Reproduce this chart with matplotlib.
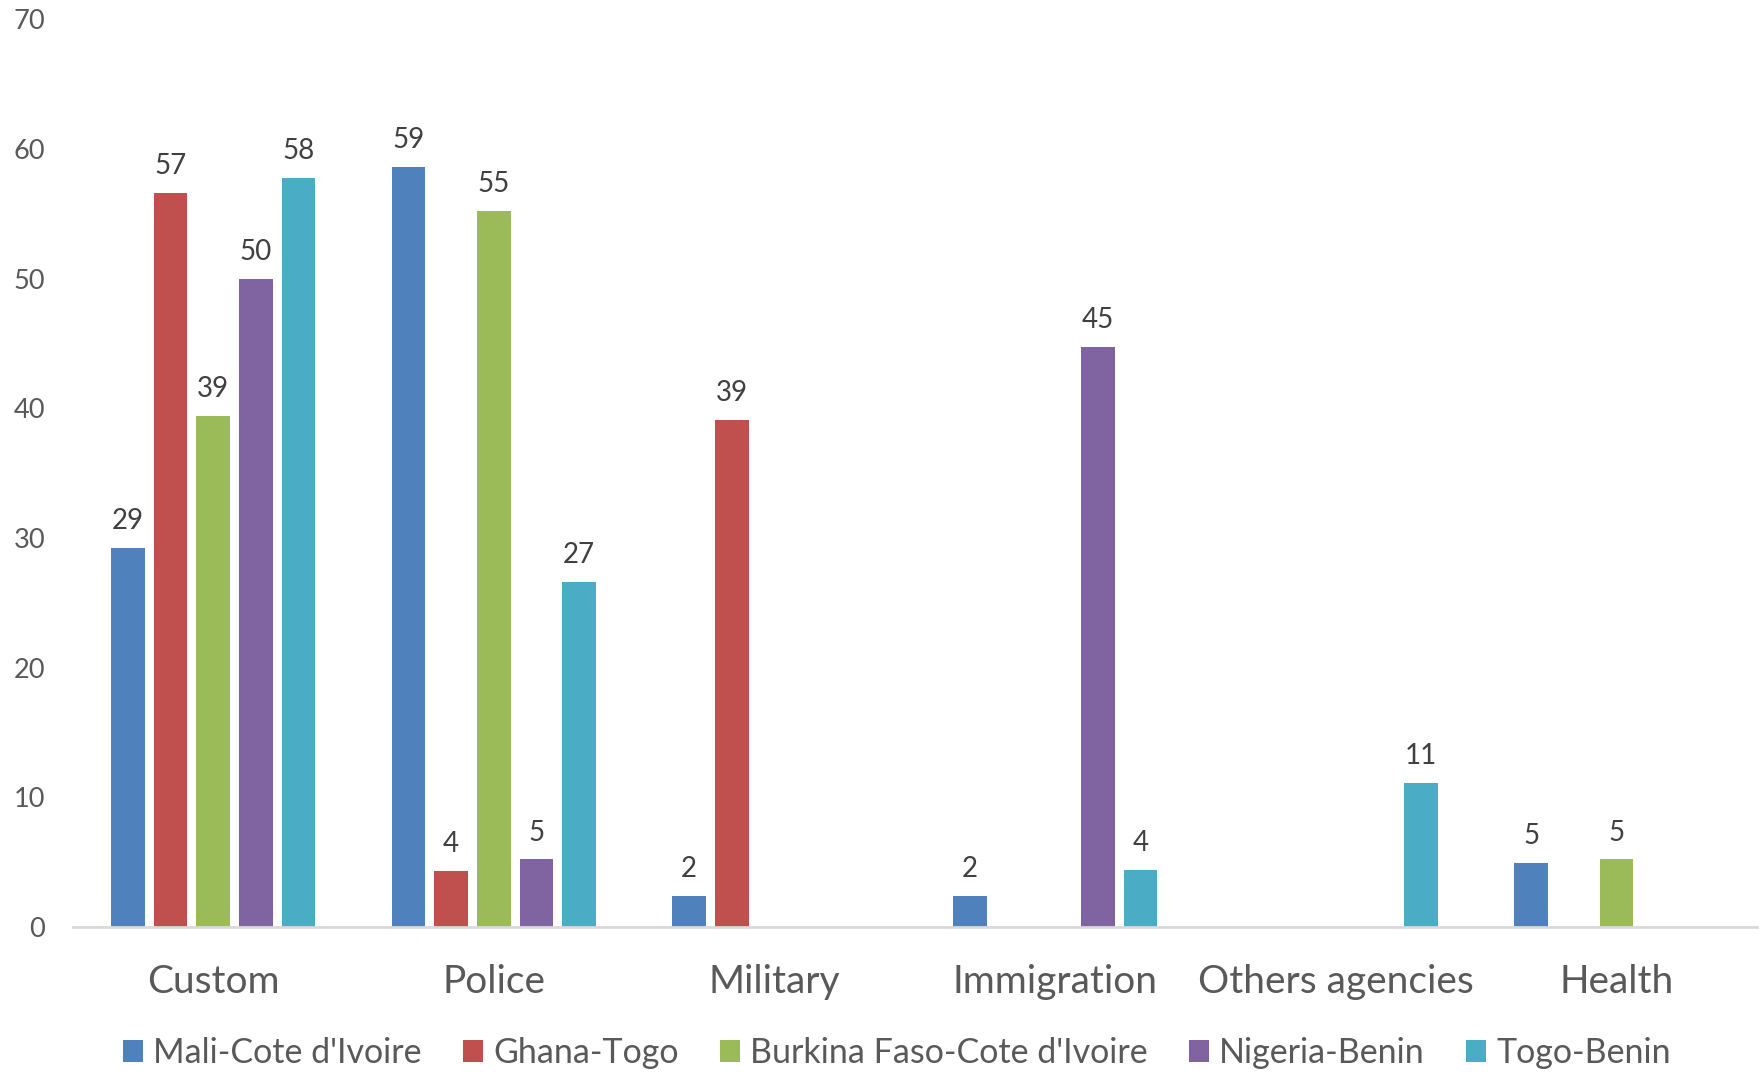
import numpy as np
from matplotlib import pyplot as plt
from matplotlib.patches import Patch

# categories and series (nan = no bar)
categories = ["Custom", "Police", "Military", "Immigration", "Others agencies", "Health"]
series = ["Mali-Cote d'Ivoire", "Ghana-Togo", "Burkina Faso-Cote d'Ivoire", "Nigeria-Benin", "Togo-Benin"]
mali_ci = [29.2, 58.6, 2.4, 2.4, np.nan, 4.9]
ghana_togo = [56.6, 4.3, 39.1, np.nan, np.nan, np.nan]
burkina_ci = [39.4, 55.2, np.nan, np.nan, np.nan, 5.2]
nigeria_benin = [50.0, 5.2, np.nan, 44.7, np.nan, np.nan]
togo_benin = [57.8, 26.6, np.nan, 4.4, 11.1, np.nan]
yticks = [0, 10, 20, 30, 40, 50, 60, 70]

colors = ["#4F81BD", "#C0504D", "#9BBB59", "#8064A2", "#4BACC6"]
txt = "#595959"
plt.rcParams['font.family'] = ['Lato', 'DejaVu Sans']

fig = plt.figure(figsize=(17.62, 10.74), dpi=100)
ax = fig.add_axes([0.0414, 0.137, 0.9556, 0.845])

x = np.arange(len(categories))
pitch = 0.152
width = 0.12
allvals = [mali_ci, ghana_togo, burkina_ci, nigeria_benin, togo_benin]
for k, vals in enumerate(allvals):
    pos = x + (k - 2) * pitch
    v = np.array(vals, dtype=float)
    ok = ~np.isnan(v)
    bars = ax.bar(pos[ok], v[ok], width, color=colors[k], zorder=2)
    for b, val in zip(bars, v[ok]):
        ax.annotate("{:.0f}".format(val), (b.get_x() + b.get_width() / 2, val),
                    xytext=(0, 10), textcoords="offset points",
                    ha="center", va="bottom", fontsize=20, color="#404040")

ax.set_xlim(-0.5, len(categories) - 0.5)
ax.set_ylim(0, 70)
ax.set_yticks(yticks)
ax.set_xticks(x)
ax.set_xticklabels(categories)
ax.tick_params(axis="x", length=0, pad=27, labelsize=28, labelcolor=txt)
ax.tick_params(axis="y", length=0, pad=20, labelsize=19.5, labelcolor=txt)
for s in ["top", "right", "left"]:
    ax.spines[s].set_visible(False)
ax.spines["bottom"].set_color("#D9D9D9")
ax.spines["bottom"].set_linewidth(2)

handles = [Patch(facecolor=c, label=s) for c, s in zip(colors, series)]
leg = fig.legend(handles=handles, loc="center", bbox_to_anchor=(0.509, 0.0196),
                 ncol=5, frameon=False, fontsize=24.5, handlelength=0.6,
                 handleheight=0.6, handletextpad=0.3, columnspacing=1.2,
                 borderaxespad=0, borderpad=0)
for t in leg.get_texts():
    t.set_color(txt)

fig.savefig("out.png", dpi=100)
